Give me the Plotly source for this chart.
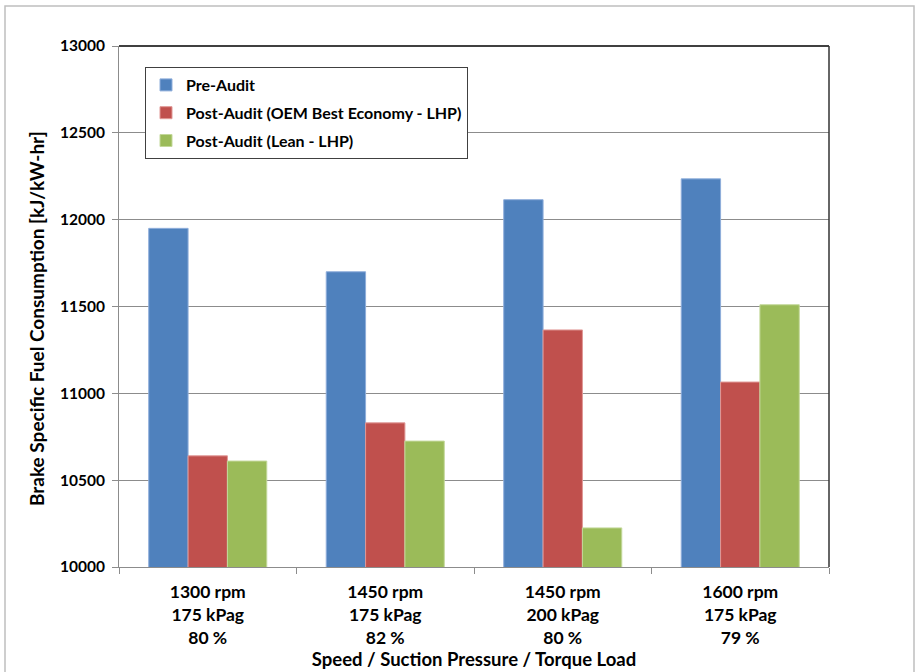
import plotly.graph_objects as go

# Operating points: speed / suction pressure / torque load
categories = [
    "1300 rpm<br>175 kPag<br>80 %",
    "1450 rpm<br>175 kPag<br>82 %",
    "1450 rpm<br>200 kPag<br>80 %",
    "1600 rpm<br>175 kPag<br>79 %",
]

# Brake specific fuel consumption, kJ/kW-hr
pre_audit = [11950, 11700, 12115, 12235]
post_oem_best_economy = [10640, 10830, 11365, 11065]
post_lean = [10610, 10725, 10225, 11510]

series_names = [
    "Pre-Audit",
    "Post-Audit (OEM Best Economy - LHP)",
    "Post-Audit (Lean - LHP)",
]
series_colors = ["#4F81BD", "#C0504D", "#9BBB59"]
edge_colors = ["#8FAEDB", "#E09896", "#C3D89A"]

y_ticks = [10000, 10500, 11000, 11500, 12000, 12500, 13000]

y_title = "Brake Specific Fuel Consumption [kJ/kW-hr]"
x_title = "Speed / Suction Pressure / Torque Load"

FONT = "Lato, Open Sans, sans-serif"

fig = go.Figure()
for i, (name, vals, col, edge) in enumerate(zip(series_names,
                                 [pre_audit, post_oem_best_economy, post_lean],
                                 series_colors, edge_colors)):
    fig.add_trace(go.Bar(
        x=categories, y=vals, name="<b>%s</b>" % name, legendgroup="g%d" % i,
        marker=dict(color=col, line=dict(color=edge, width=1)),
    ))

W, H = 919, 672
L, R, T, B = 119, 90, 46, 105
pw, ph = W - L - R, H - T - B


def px_x(p):
    return (p - L) / pw


def px_y(p):
    return (H - B - p) / ph


fig.update_layout(
    width=W, height=H,
    margin=dict(l=L, r=R, t=T, b=B, pad=0),
    paper_bgcolor="white", plot_bgcolor="white",
    barmode="group", bargap=0.335, bargroupgap=0,
    font=dict(family=FONT, size=15, color="black"),
    showlegend=True,
    legend=dict(
        x=px_x(145), y=px_y(67), xanchor="left", yanchor="top",
        bgcolor="white", bordercolor="#404040", borderwidth=1,
        font=dict(family=FONT, size=16, color="black"),
        itemwidth=30, tracegroupgap=4,
    ),
    xaxis=dict(
        automargin=False,
        showline=True, linecolor="#8c8c8c", linewidth=1,
        ticks="outside", tickson="boundaries", ticklen=6, tickcolor="#8c8c8c",
        tickfont=dict(family=FONT, size=17.5, color="black"),
        ticktext=["<b>%s</b>" % c for c in categories], tickvals=categories,
        ticklabelstandoff=9,
        title=dict(text="<b>%s</b>" % x_title,
                   font=dict(family=FONT, size=18.5, color="black"), standoff=6),
    ),
    yaxis=dict(
        automargin=False,
        range=[10000, 13000], tickvals=y_ticks,
        ticktext=["<b>%d</b>" % v for v in y_ticks],
        showline=True, linecolor="#8c8c8c", linewidth=1,
        ticks="outside", ticklen=6, tickcolor="#8c8c8c",
        showgrid=True, gridcolor="#8c8c8c", gridwidth=1,
        zeroline=False, ticklabelstandoff=4,
        tickfont=dict(family=FONT, size=15.5, color="black"),
    ),
)

# y-axis title, set a little below the plot's mid-height
fig.add_annotation(
    text="<b>%s</b>" % y_title, textangle=-90, showarrow=False,
    xref="paper", yref="paper", x=px_x(36), y=px_y(319),
    xanchor="center", yanchor="middle",
    font=dict(family=FONT, size=19, color="black"),
)

# plot-area frame: dark top and right edges
fig.add_shape(type="line", xref="paper", yref="paper", x0=0, x1=1, y0=1, y1=1,
              line=dict(color="black", width=1.5))
fig.add_shape(type="line", xref="paper", yref="paper", x0=1, x1=1, y0=0, y1=1,
              line=dict(color="#333333", width=1.5))

# outer chart border
fig.add_shape(type="rect", xref="paper", yref="paper",
              x0=px_x(5), x1=px_x(914), y0=px_y(6), y1=px_y(700),
              line=dict(color="#bfbfbf", width=1.5), layer="below")

fig.write_html("out.html")
